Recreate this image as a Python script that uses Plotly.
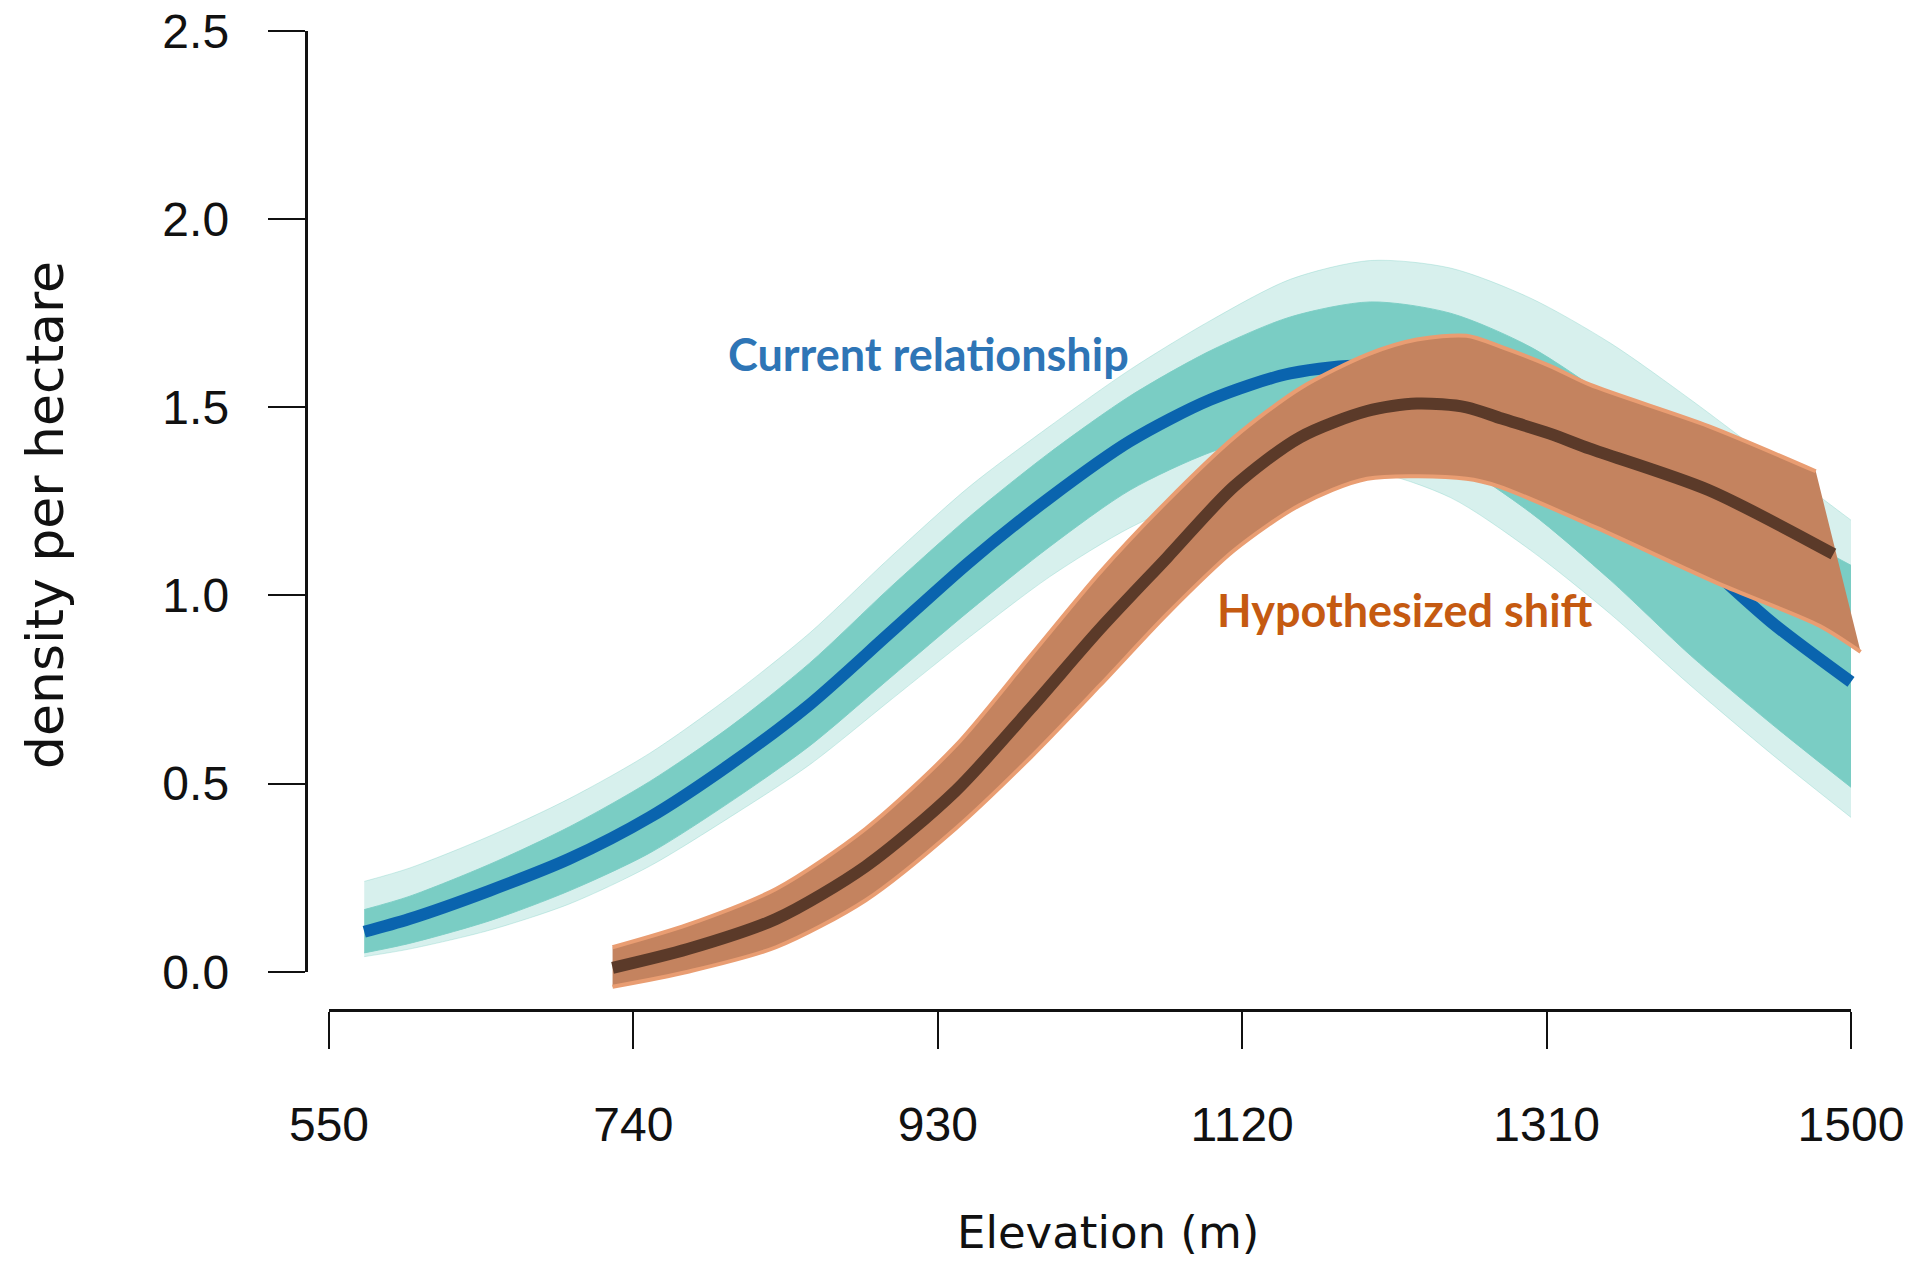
import plotly.graph_objects as go

# ---------------- data ----------------
elev = [572, 600, 650, 700, 750, 800, 850, 900, 950, 1000,
        1050, 1100, 1150, 1200, 1250, 1300, 1350, 1400, 1450, 1500]
current_mean = [0.106, 0.14, 0.215, 0.30, 0.41, 0.55, 0.71, 0.90, 1.09, 1.26,
                1.41, 1.52, 1.59, 1.61, 1.56, 1.45, 1.30, 1.12, 0.93, 0.77]
current_core_hi = [0.165, 0.20, 0.285, 0.385, 0.505, 0.65, 0.82, 1.02, 1.21, 1.38,
                   1.53, 1.65, 1.74, 1.78, 1.75, 1.66, 1.52, 1.36, 1.20, 1.08]
current_core_lo = [0.05, 0.075, 0.135, 0.215, 0.315, 0.45, 0.60, 0.78, 0.96, 1.13,
                   1.28, 1.38, 1.44, 1.44, 1.36, 1.22, 1.04, 0.84, 0.66, 0.49]
current_outer_hi = [0.24, 0.275, 0.36, 0.46, 0.58, 0.73, 0.90, 1.10, 1.29, 1.45,
                    1.60, 1.73, 1.84, 1.89, 1.87, 1.79, 1.67, 1.52, 1.36, 1.20]
current_outer_lo = [0.04, 0.06, 0.11, 0.18, 0.28, 0.41, 0.55, 0.72, 0.89, 1.05,
                    1.18, 1.27, 1.32, 1.33, 1.26, 1.12, 0.95, 0.76, 0.58, 0.41]

shift_elev = [727, 774, 829, 885, 941, 988, 1031, 1073, 1115, 1156,
              1198, 1229, 1260, 1282, 1312, 1337, 1411, 1489]
shift_mean = [0.01, 0.06, 0.14, 0.28, 0.48, 0.70, 0.91, 1.10, 1.29, 1.42,
              1.49, 1.51, 1.50, 1.47, 1.43, 1.39, 1.28, 1.11]

shift_hi_x = [727, 774, 829, 885, 941, 988, 1031, 1073, 1115, 1156,
              1198, 1229, 1260, 1282, 1312, 1337, 1411, 1478]
shift_hi_y = [0.065, 0.125, 0.22, 0.38, 0.60, 0.84, 1.06, 1.25, 1.42, 1.55,
              1.64, 1.68, 1.69, 1.66, 1.61, 1.56, 1.45, 1.33]
shift_lo_x = [727, 774, 829, 885, 941, 988, 1031, 1073, 1115, 1156,
              1198, 1260, 1280, 1341, 1418, 1480, 1506]
shift_lo_y = [-0.04, 0.0, 0.065, 0.19, 0.38, 0.57, 0.76, 0.95, 1.12, 1.24,
              1.31, 1.31, 1.29, 1.18, 1.03, 0.92, 0.85]

x_ticks = [550, 740, 930, 1120, 1310, 1500]
y_ticks = [0.0, 0.5, 1.0, 1.5, 2.0, 2.5]
y_ticktext = ["0.0", "0.5", "1.0", "1.5", "2.0", "2.5"]

# ---------------- layout geometry (pixels of a 1926x1264 page) ----------------
W, H = 1926, 1264
PX_X0, PX_X1 = 329.0, 1851.0      # x = 550 and x = 1500
PX_Y0, PX_Y1 = 971.7, 31.0        # y = 0 and y = 2.5
sx = (PX_X1 - PX_X0) / (1500 - 550)
sy = (PX_Y0 - PX_Y1) / 2.5

plot_left, plot_right = 300.0, 1926.0
plot_top, plot_bottom = 0.0, 1005.0
x_range = [550 + (plot_left - PX_X0) / sx, 550 + (plot_right - PX_X0) / sx]
y_range = [(PX_Y0 - plot_bottom) / sy, (PX_Y0 - plot_top) / sy]

TEAL = "rgb(122,205,196)"
TEAL_FAINT = "rgba(122,205,196,0.30)"
BLUE = "#0A64AE"
BROWN = "#5B3A29"
ORANGE = "#C4835F"
ORANGE_EDGE = "#E99D72"

fig = go.Figure()


def band(xlo, ylo, xhi, yhi, fillcolor, edgecolor, edgewidth):
    fig.add_trace(go.Scatter(
        x=xlo, y=ylo, mode="lines",
        line=dict(color=edgecolor, width=edgewidth, shape="spline", smoothing=0.8),
        hoverinfo="skip", showlegend=False))
    fig.add_trace(go.Scatter(
        x=xhi, y=yhi, mode="lines", fill="tonexty", fillcolor=fillcolor,
        line=dict(color=edgecolor, width=edgewidth, shape="spline", smoothing=0.8),
        hoverinfo="skip", showlegend=False))


# ensemble of current-relationship curves: faint envelope and dense core
band(elev, current_outer_lo, elev, current_outer_hi, TEAL_FAINT, "rgba(122,205,196,0.35)", 1)
band(elev, current_core_lo, elev, current_core_hi, TEAL, "rgba(122,205,196,0.9)", 1)
# current mean
fig.add_trace(go.Scatter(
    x=elev, y=current_mean, mode="lines",
    line=dict(color=BLUE, width=12, shape="spline", smoothing=0.8),
    hoverinfo="skip", showlegend=False))
# hypothesized band
band(shift_lo_x, shift_lo_y, shift_hi_x, shift_hi_y, ORANGE, ORANGE_EDGE, 4)
# hypothesized mean
fig.add_trace(go.Scatter(
    x=shift_elev, y=shift_mean, mode="lines",
    line=dict(color=BROWN, width=12, shape="spline", smoothing=0.8),
    hoverinfo="skip", showlegend=False))

# invisible trace carrying the displayed (R style) axes
fig.add_trace(go.Scatter(
    x=[550, 1500], y=[0, 2.5], xaxis="x2", yaxis="y2", mode="markers",
    marker=dict(opacity=0), hoverinfo="skip", showlegend=False))

tick_font = dict(family="Liberation Sans, Arial, sans-serif", size=48, color="#111111")

fig.update_layout(
    template="none",
    width=W, height=H, margin=dict(l=0, r=0, t=0, b=0, pad=0), autosize=False,
    paper_bgcolor="white", plot_bgcolor="rgba(0,0,0,0)",
    xaxis=dict(domain=[plot_left / W, plot_right / W], range=x_range, visible=False,
               fixedrange=True, automargin=False),
    yaxis=dict(domain=[1 - plot_bottom / H, 1 - plot_top / H], range=y_range, visible=False,
               fixedrange=True, automargin=False),
    xaxis2=dict(domain=[PX_X0 / W, PX_X1 / W], range=[550, 1500], anchor="free",
                position=1 - 1010.0 / H, showgrid=False, zeroline=False, automargin=False,
                showline=True, linecolor="#111111", linewidth=2.6,
                ticks="outside", ticklen=37, tickwidth=2.4, tickcolor="#111111",
                tickvals=x_ticks, ticktext=[str(v) for v in x_ticks],
                tickfont=tick_font, ticklabelstandoff=35, fixedrange=True),
    yaxis2=dict(domain=[1 - PX_Y0 / H, 1 - PX_Y1 / H], range=[0, 2.5], anchor="free",
                position=305.5 / W, showgrid=False, zeroline=False, automargin=False,
                showline=True, linecolor="#111111", linewidth=2.6,
                ticks="outside", ticklen=37, tickwidth=2.4, tickcolor="#111111",
                tickvals=y_ticks, ticktext=y_ticktext,
                tickfont=tick_font, ticklabelstandoff=29, fixedrange=True),
    annotations=[
        dict(text="Elevation (m)", xref="paper", yref="paper",
             x=1108 / W, y=1 - 1232 / H, xanchor="center", yanchor="middle",
             showarrow=False,
             font=dict(family="DejaVu Sans, sans-serif", size=45, color="#111111")),
        dict(text="density per hectare", xref="paper", yref="paper",
             x=45 / W, y=1 - 515 / H, xanchor="center", yanchor="middle",
             textangle=-90, showarrow=False,
             font=dict(family="DejaVu Sans, sans-serif", size=52, color="#111111")),
        dict(text="<b>Current relationship</b>", xref="paper", yref="paper",
             x=928 / W, y=1 - 354 / H, xanchor="center", yanchor="middle",
             showarrow=False,
             font=dict(family="Lato, sans-serif", size=45, color="#2E75B6")),
        dict(text="<b>Hypothesized shift</b>", xref="paper", yref="paper",
             x=1405 / W, y=1 - 610 / H, xanchor="center", yanchor="middle",
             showarrow=False,
             font=dict(family="Lato, sans-serif", size=45, color="#C55A11")),
    ],
)

fig.write_html("out.html", post_script="document.body.style.margin='0';",
               config={"displayModeBar": False})
